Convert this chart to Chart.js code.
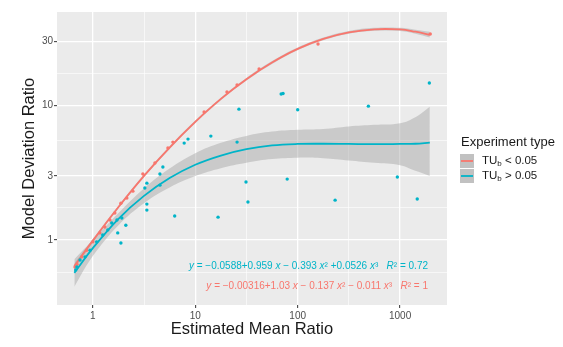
<!DOCTYPE html>
<html>
<head>
<meta charset="utf-8">
<script src="https://cdn.jsdelivr.net/npm/chart.js@4"></script>
<style>
  body { margin: 0; background: #fff; }
  canvas { display: block; }
</style>
</head>
<body>
<canvas id="chart" width="563" height="347"></canvas>
<script>
// points, TU_b < 0.05
const redX = [0.67, 0.70, 0.78, 0.87, 1.0, 1.17, 1.31, 1.47, 1.64, 1.88, 2.15, 2.46, 3.08, 4.04, 5.41, 6.05, 12.2, 20.4, 25.6, 42, 158, 1970];
const redY = [0.63, 0.66, 0.75, 0.84, 0.97, 1.13, 1.25, 1.41, 1.59, 1.88, 2.05, 2.31, 3.10, 3.74, 4.83, 5.35, 8.95, 12.6, 14.2, 18.7, 28.7, 34];

// points, TU_b > 0.05
const blueX = [0.68, 0.70, 0.75, 0.84, 0.94, 1.09, 1.25, 1.40, 1.53, 1.72, 1.92, 2.10, 1.75, 1.88, 3.37, 3.22, 4.52, 4.83, 4.52, 3.37, 3.37, 6.3, 16.7, 7.8, 8.5, 14.2, 25.6, 26.7, 31.3, 32.7, 69, 72, 79, 100, 232, 490, 940, 1470, 1930];
const blueY = [0.60, 0.63, 0.71, 0.75, 0.84, 0.97, 1.09, 1.19, 1.34, 1.41, 1.46, 1.29, 1.13, 0.95, 2.65, 2.44, 2.56, 3.49, 3.10, 1.85, 1.67, 1.51, 1.48, 5.26, 5.63, 5.93, 5.35, 9.4, 2.70, 1.92, 12.2, 12.3, 2.84, 9.3, 1.98, 9.9, 2.94, 2.02, 14.7];

// smooth fits and their bands
const fitX = [0.66, 1, 1.78, 3.16, 5.62, 10, 17.8, 31.6, 56.2, 100, 178, 316, 562, 1000, 1410, 1950];
const redFit = [0.64, 0.99, 1.76, 3.0, 4.87, 7.56, 11.2, 15.7, 20.9, 26.4, 31.3, 35.0, 36.9, 36.8, 35.4, 33.6];
const redUpper = [0.67, 1.02, 1.80, 3.07, 4.98, 7.73, 11.45, 16.05, 21.4, 27.0, 32.0, 35.8, 37.8, 37.8, 36.6, 35.3];
const redLower = [0.61, 0.96, 1.72, 2.93, 4.76, 7.39, 10.95, 15.35, 20.4, 25.8, 30.6, 34.2, 36.0, 35.8, 34.2, 32.0];
const blueFit = [0.57, 0.87, 1.44, 2.13, 2.89, 3.63, 4.25, 4.74, 5.05, 5.18, 5.2, 5.18, 5.16, 5.18, 5.2, 5.3];
const blueUpper = [0.72, 1.0, 1.59, 2.42, 3.40, 4.42, 5.28, 5.95, 6.4, 6.6, 6.7, 7.0, 7.2, 7.4, 8.2, 9.8];
const blueLower = [0.45, 0.76, 1.29, 1.88, 2.46, 2.99, 3.42, 3.76, 4.0, 4.1, 4.05, 3.9, 3.75, 3.6, 3.27, 3.0];

// axis breaks (minor ones get a grid line but no label)
const xTicks = [1, 3.162, 10, 31.62, 100, 316.2, 1000];
const xLabels = ['1', '', '10', '', '100', '', '1000'];
const yTicks = [0.577, 1, 1.732, 3, 5.477, 10, 17.32, 30];
const yLabels = ['', '1', '', '3', '', '10', '', '30'];

const RED = '#F8766D';
const BLUE = '#00B4C8';
const BAND = 'rgba(153,153,153,0.4)';

const pts = (xs, ys) => xs.map((x, i) => ({ x: x, y: ys[i] }));

const panelBg = {
  id: 'panelBg',
  beforeDraw(chart) {
    const a = chart.chartArea, c = chart.ctx;
    c.save();
    c.fillStyle = '#EBEBEB';
    c.fillRect(a.left, a.top, a.right - a.left, a.bottom - a.top);
    c.restore();
  }
};

function richText(c, parts, xRight, y) {
  let w = 0;
  parts.forEach(p => { c.font = p[1]; w += c.measureText(p[0]).width; });
  let x = xRight - w;
  parts.forEach(p => { c.font = p[1]; c.fillText(p[0], x, y); x += c.measureText(p[0]).width; });
}

const extras = {
  id: 'extras',
  afterDatasetsDraw(chart) {
    const a = chart.chartArea, c = chart.ctx;
    const n = '10px "Liberation Sans"', it = 'italic 10px "Liberation Sans"';
    c.save();
    c.textBaseline = 'middle';
    c.fillStyle = BLUE;
    richText(c, [['y', it], [' = \u22120.0588+0.959 ', n], ['x', it], [' \u2212 0.393 ', n], ['x', it], ['\u00B2', n],
      [' +0.0526 ', n], ['x', it], ['\u00B3', n], ['   ', n], ['R', it], ['\u00B2', n], [' = 0.72', n]], a.right - 19, 266);
    c.fillStyle = RED;
    richText(c, [['y', it], [' = \u22120.00316+1.03 ', n], ['x', it], [' \u2212 0.137 ', n], ['x', it], ['\u00B2', n],
      [' \u2212 0.011 ', n], ['x', it], ['\u00B3', n], ['   ', n], ['R', it], ['\u00B2', n], [' = 1', n]], a.right - 19, 286);
    c.restore();
  },
  afterDraw(chart) {
    const c = chart.ctx;
    c.save();
    c.textBaseline = 'middle';
    c.fillStyle = '#1A1A1A';
    c.font = '13px "Liberation Sans"';
    c.fillText('Experiment type', 461, 142);
    [[RED, 161], [BLUE, 176]].forEach(([col, y], i) => {
      c.fillStyle = '#F2F2F2';
      c.fillRect(460, y - 7, 14, 14);
      c.fillStyle = 'rgba(153,153,153,0.55)';
      c.fillRect(460, y - 7, 14, 14);
      c.strokeStyle = col;
      c.lineWidth = 1.8;
      c.beginPath();
      c.moveTo(461, y);
      c.lineTo(473, y);
      c.stroke();
      c.fillStyle = '#1A1A1A';
      c.font = '11.5px "Liberation Sans"';
      c.fillText('TU', 482, y);
      let x = 482 + c.measureText('TU').width;
      c.font = '8px "Liberation Sans"';
      c.fillText('b', x, y + 3);
      x += c.measureText('b').width;
      c.font = '11.5px "Liberation Sans"';
      c.fillText(i === 0 ? ' < 0.05' : ' > 0.05', x, y);
    });
    c.restore();
  }
};

const gridOpts = (ticks, labels) => ({
  color: '#FFFFFF',
  lineWidth: ctx => (labels[ctx.index] ? 1.3 : 0.6),
  tickColor: ctx => (labels[ctx.index] ? '#333333' : 'rgba(0,0,0,0)'),
  tickWidth: 1,
  tickLength: 3
});

const curve = { showLine: true, pointRadius: 0, tension: 0.4 };

new Chart(document.getElementById('chart'), {
  type: 'scatter',
  data: {
    datasets: [
      { data: pts(blueX, blueY), backgroundColor: BLUE, borderWidth: 0, pointRadius: 1.7 },
      { data: pts(redX, redY), backgroundColor: RED, borderWidth: 0, pointRadius: 1.7 },
      { ...curve, data: pts(fitX, blueFit), borderColor: BLUE, borderWidth: 1.8 },
      { ...curve, data: pts(fitX, redFit), borderColor: RED, borderWidth: 1.8 },
      { ...curve, data: pts(fitX, blueUpper), borderWidth: 0, fill: '+1', backgroundColor: BAND },
      { ...curve, data: pts(fitX, blueLower), borderWidth: 0 },
      { ...curve, data: pts(fitX, redUpper), borderWidth: 0, fill: '+1', backgroundColor: BAND },
      { ...curve, data: pts(fitX, redLower), borderWidth: 0 }
    ]
  },
  options: {
    responsive: false,
    animation: false,
    layout: { padding: { top: 12, right: 116, bottom: 0, left: 0 } },
    plugins: { legend: { display: false }, tooltip: { enabled: false } },
    scales: {
      x: {
        type: 'logarithmic',
        bounds: 'data',
        min: 0.447,
        max: 2870,
        afterBuildTicks: s => { s.ticks = xTicks.map(v => ({ value: v })); },
        afterFit: s => { s.height = 42; },
        ticks: {
          autoSkip: false, maxRotation: 0, padding: 2,
          color: '#4D4D4D', font: { family: 'Liberation Sans', size: 10 },
          callback: (v, i) => xLabels[i]
        },
        grid: gridOpts(xTicks, xLabels),
        border: { display: false },
        title: {
          display: true, text: 'Estimated Mean Ratio', color: '#1A1A1A',
          font: { family: 'Liberation Sans', size: 16.5 }, padding: { top: 0, bottom: 8 }
        }
      },
      y: {
        type: 'logarithmic',
        bounds: 'data',
        min: 0.329,
        max: 49.6,
        afterBuildTicks: s => { s.ticks = yTicks.map(v => ({ value: v })); },
        afterFit: s => { s.width = 57; },
        ticks: {
          autoSkip: false, padding: 1,
          color: '#4D4D4D', font: { family: 'Liberation Sans', size: 10 },
          callback: (v, i) => yLabels[i]
        },
        grid: gridOpts(yTicks, yLabels),
        border: { display: false },
        title: {
          display: true, text: 'Model Deviation Ratio', color: '#1A1A1A',
          font: { family: 'Liberation Sans', size: 16.5 }, padding: { top: 20, bottom: 0 }
        }
      }
    }
  },
  plugins: [panelBg, extras]
});
</script>
</body>
</html>
